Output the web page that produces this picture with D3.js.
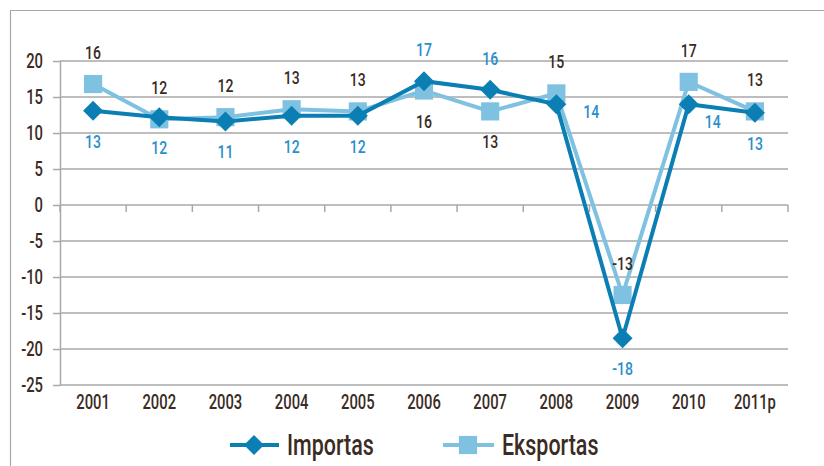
<!DOCTYPE html>
<html>
<head>
<meta charset="utf-8">
<script src="https://cdn.jsdelivr.net/npm/d3@7"></script>
<style>
    body { margin: 0; background: #fff; }
    svg text { font-family: Roboto, "Liberation Sans", Arial, sans-serif; font-weight: 500; }
</style>
</head>
<body>
<svg id="chart" width="824" height="466"></svg>
<script>
/** ------------- DATA -------------- */
const years = ["2001", "2002", "2003", "2004", "2005", "2006", "2007", "2008", "2009", "2010", "2011p"];
const importas = [13.1, 12.2, 11.6, 12.4, 12.4, 17.2, 16.0, 14.0, -18.5, 14.0, 12.8];
const eksportas = [16.8, 11.9, 12.2, 13.3, 13.0, 15.9, 13.0, 15.5, -12.5, 17.1, 13.0];
const importasLabels = ["13", "12", "11", "12", "12", "17", "16", "14", "-18", "14", "13"];
const eksportasLabels = ["16", "12", "12", "13", "13", "16", "13", "15", "-13", "17", "13"];
const importasSide = ["below", "below", "below", "below", "below", "above", "above", "right", "below", "lowright", "below"];
const eksportasSide = ["above", "above", "above", "above", "above", "below", "below", "above", "above", "above", "above"];
const yTicks = [20, 15, 10, 5, 0, -5, -10, -15, -20, -25];

const darkBlue = "#0b7fb4";
const lightBlue = "#7fc1e0";
const gridGray = "#a8a8a8";
const textDark = "#3a2b24";
const textBlue = "#2a8fcc";
const squeeze = 0.74; // condensed look, no narrow font installed

const svg = d3.select("#chart");

/**
 * Put a horizontally condensed text at x,y
 */
function narrowText(g, px, py, txt, size, color, anchor) {
    return g.append("text")
        .attr("transform", "translate(" + px + "," + py + ") scale(" + squeeze + ",1)")
        .attr("text-anchor", anchor || "middle")
        .attr("font-size", size)
        .attr("fill", color)
        .text(txt);
}

/** frame */
svg.append("path")
    .attr("d", "M10.5,466V10.5H824")
    .attr("fill", "none")
    .attr("stroke", gridGray)
    .attr("stroke-width", 1.2);

/** scales */
const x = d3.scaleBand().domain(years).range([60, 788]);
const y = d3.scaleLinear().domain([-25, 20]).range([385, 61]);
const cx = (d) => x(d) + x.bandwidth() / 2;

/** y axis with small outer ticks */
svg.append("g")
    .attr("transform", "translate(60,0)")
    .call(d3.axisLeft(y).tickValues(yTicks).tickSize(7).tickSizeOuter(0).tickFormat(""))
    .call((g) => g.selectAll("line,path").attr("stroke", gridGray).attr("stroke-width", 1.5));

/** gridlines */
svg.append("g")
    .selectAll("line")
    .data(yTicks)
    .join("line")
    .attr("x1", 60)
    .attr("x2", 788)
    .attr("y1", (d) => y(d))
    .attr("y2", (d) => y(d))
    .attr("stroke", gridGray)
    .attr("stroke-width", 1.5);

const yl = svg.append("g");
yTicks.forEach((t) => narrowText(yl, 43, y(t) + 7, t, 20, textDark, "end"));

/** category ticks on the zero line */
svg.append("g")
    .selectAll("line")
    .data(years.concat(["end"]))
    .join("line")
    .attr("x1", (d, i) => (i < years.length ? x(d) : 788))
    .attr("x2", (d, i) => (i < years.length ? x(d) : 788))
    .attr("y1", y(0))
    .attr("y2", y(0) + 7)
    .attr("stroke", gridGray)
    .attr("stroke-width", 1.5);

/** x labels */
const xl = svg.append("g");
years.forEach((d) => narrowText(xl, cx(d), 409, d, 20, textDark));

/** series */
const line = d3.line().x((d, i) => cx(years[i])).y((d) => y(d));

svg.append("path")
    .datum(eksportas)
    .attr("d", line)
    .attr("fill", "none")
    .attr("stroke", lightBlue)
    .attr("stroke-width", 4);
svg.append("g")
    .selectAll("path")
    .data(eksportas)
    .join("path")
    .attr("d", d3.symbol(d3.symbolSquare, 330))
    .attr("transform", (d, i) => "translate(" + cx(years[i]) + "," + y(d) + ")")
    .attr("fill", lightBlue);

svg.append("path")
    .datum(importas)
    .attr("d", line)
    .attr("fill", "none")
    .attr("stroke", darkBlue)
    .attr("stroke-width", 4);
svg.append("g")
    .selectAll("path")
    .data(importas)
    .join("path")
    .attr("d", d3.symbol(d3.symbolSquare, 200))
    .attr("transform", (d, i) => "translate(" + cx(years[i]) + "," + y(d) + ") rotate(45)")
    .attr("fill", darkBlue);

/** data labels */
function addLabels(values, labels, sides, color) {
    const g = svg.append("g");
    values.forEach((v, i) => {
        let px = cx(years[i]);
        let py = y(v);
        if (sides[i] === "above") py -= 25;
        else if (sides[i] === "below") py += 37;
        else if (sides[i] === "right") { px += 35; py += 14; }
        else { px += 24; py += 24; }
        narrowText(g, px, py, labels[i], 19, color);
    });
}
addLabels(eksportas, eksportasLabels, eksportasSide, textDark);
addLabels(importas, importasLabels, importasSide, textBlue);

/** legend */
const legend = svg.append("g").attr("transform", "translate(0,445)");
legend.append("line").attr("x1", 230).attr("x2", 279).attr("stroke", darkBlue).attr("stroke-width", 4);
legend.append("path")
    .attr("d", d3.symbol(d3.symbolSquare, 200))
    .attr("transform", "translate(254,0) rotate(45)")
    .attr("fill", darkBlue);
narrowText(legend, 287, 10, "Importas", 29, textDark, "start");

legend.append("line").attr("x1", 443).attr("x2", 494).attr("stroke", lightBlue).attr("stroke-width", 4);
legend.append("path")
    .attr("d", d3.symbol(d3.symbolSquare, 330))
    .attr("transform", "translate(468,0)")
    .attr("fill", lightBlue);
narrowText(legend, 502, 10, "Eksportas", 29, textDark, "start");
</script>
</body>
</html>
